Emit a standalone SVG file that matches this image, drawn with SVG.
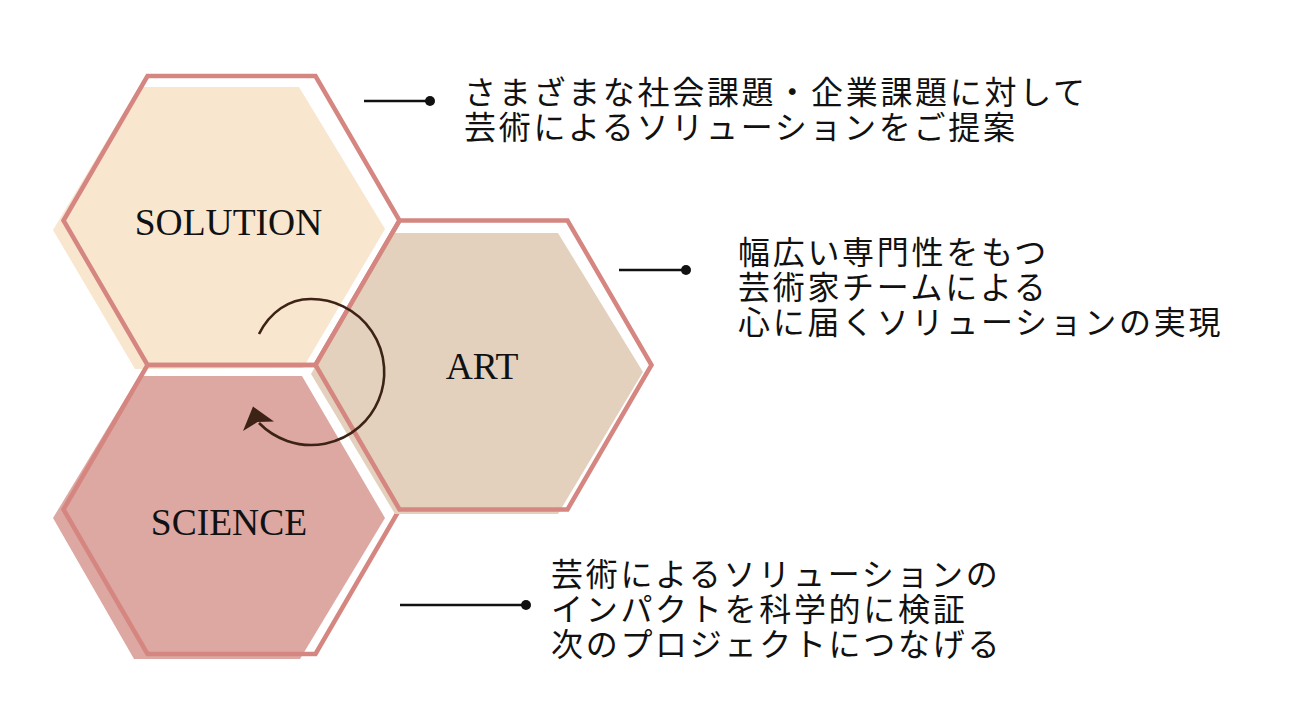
<svg xmlns="http://www.w3.org/2000/svg" width="1291" height="721" viewBox="0 0 1291 721">
  <style>
    .outline { fill: none; stroke: #D58680; stroke-width: 4.5; stroke-linejoin: miter; }
    .label { font-family: "Liberation Serif", "Times New Roman", serif; font-size: 37.5px; fill: #111; text-anchor: middle; }
    .desc { font-family: "Noto Sans CJK JP", "Noto Sans", sans-serif; font-size: 32px; letter-spacing: 2.7px; fill: #111; }
    .conn { stroke: #111; stroke-width: 2.3; fill: none; }
    .dot { fill: #111; }
    .arc { fill: none; stroke: #3D2216; stroke-width: 2.6; stroke-linecap: butt; }
  </style>
  <rect width="1291" height="721" fill="#ffffff"/>

  <g id="node-solution">
    <polygon points="53,230 139,87 299,87 385,229 303,368 135,369" fill="#F8E6CF"/>
    <polygon class="outline" points="63.5,220.5 147.5,76 315.5,76 399.5,220.5 315.5,365 147.5,365"/>
    <text class="label" x="228.5" y="235">SOLUTION</text>
  </g>

  <g id="node-science">
    <polygon points="53,518 139,376 302,376 385,518 300,659 134,659" fill="#DDA7A2"/>
    <polygon class="outline" points="63.5,509.5 147.5,365 315.5,365 399.5,509.5 315.5,654 147.5,654"/>
    <text class="label" x="229" y="535">SCIENCE</text>
  </g>

  <g id="node-art">
    <polygon points="311,374 393,233 558,233 643,372 558,514 395,514" fill="#E3D1BD"/>
    <polygon class="outline" points="315.5,365 399.5,220.5 567.5,220.5 651.5,365 567.5,509.5 399.5,509.5"/>
    <text class="label" x="482" y="379">ART</text>
  </g>

  <g id="cycle-arrow">
    <path class="arc" d="M259,334 C270,312 289,299 310.5,299 A73,73 0 1 1 259,423"/>
    <polygon points="253,406.5 274,421.5 257.5,422 243,431" fill="#3D2216"/>
  </g>

  <g id="connectors">
    <line class="conn" x1="364" y1="101" x2="430" y2="101"/>
    <circle class="dot" cx="430" cy="101" r="5"/>
    <line class="conn" x1="619" y1="270" x2="686" y2="270"/>
    <circle class="dot" cx="686" cy="270" r="5"/>
    <line class="conn" x1="400" y1="605" x2="526" y2="605"/>
    <circle class="dot" cx="526" cy="605" r="5"/>
  </g>

  <g id="text-solution">
    <text class="desc" x="464" y="104">さまざまな社会課題・企業課題に対して</text>
    <text class="desc" x="464" y="139">芸術によるソリューションをご提案</text>
  </g>
  <g id="text-art">
    <text class="desc" x="738" y="264">幅広い専門性をもつ</text>
    <text class="desc" x="738" y="299">芸術家チームによる</text>
    <text class="desc" x="738" y="334">心に届くソリューションの実現</text>
  </g>
  <g id="text-science">
    <text class="desc" x="551" y="586">芸術によるソリューションの</text>
    <text class="desc" x="551" y="621">インパクトを科学的に検証</text>
    <text class="desc" x="551" y="656">次のプロジェクトにつなげる</text>
  </g>
</svg>
